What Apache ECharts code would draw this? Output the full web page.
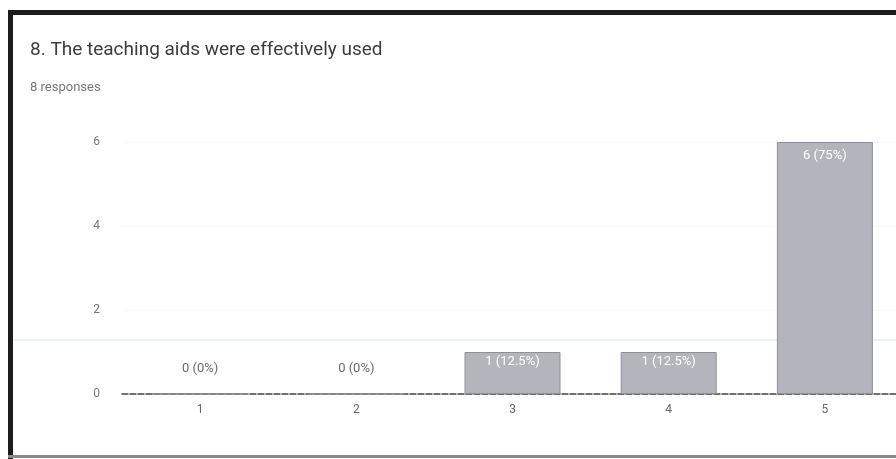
<!DOCTYPE html>
<html>
<head>
<meta charset="utf-8">
<script src="https://cdn.jsdelivr.net/npm/echarts@6/dist/echarts.min.js"></script>
<style>
html,body{margin:0;padding:0;background:#fff;overflow:hidden;width:896px;height:459px;}
#chart{width:903px;height:459px;}
</style>
</head>
<body>
<div id="chart"></div>
<script>
const titleText = "8. The teaching aids were effectively used";
const subtitleText = "8 responses";
const categories = ["1", "2", "3", "4", "5"];
const counts = [0, 0, 1, 1, 6];
const barLabels = ["0 (0%)", "0 (0%)", "1 (12.5%)", "1 (12.5%)", "6 (75%)"];
const yTicks = [0, 2, 4, 6];

const chart = echarts.init(document.getElementById('chart'));
const data = counts.map((v, i) => ({
  value: v,
  label: v === 0
    ? { position: 'top', distance: 18, color: '#6a6a6a' }
    : { position: 'insideTop', distance: v > 3 ? 7 : 3, color: '#ffffff' }
}));

chart.setOption({
  animation: false,
  backgroundColor: '#ffffff',
  title: [
    { text: titleText, left: 25, top: 36, textStyle: { fontFamily: 'Roboto', fontSize: 19, fontWeight: 'normal', color: '#3c3c3c' } },
    { text: subtitleText, left: 25, top: 76, textStyle: { fontFamily: 'Roboto', fontSize: 13, fontWeight: 'normal', color: '#777' } }
  ],
  graphic: [
    { type: 'rect', shape: { x: 8, y: 10, width: 900, height: 5 }, style: { fill: '#1c1c1c' }, z: 100 },
    { type: 'rect', shape: { x: 8, y: 10, width: 5, height: 449 }, style: { fill: '#1c1c1c' }, z: 100 },
    { type: 'rect', shape: { x: 8, y: 455, width: 900, height: 3 }, style: { fill: '#8a8a8a' }, z: 100 },
    { type: 'line', shape: { x1: 13, y1: 340, x2: 903, y2: 340 }, style: { stroke: '#d6e4e6', lineWidth: 1 }, z: 1 }
  ],
  grid: { left: 122, right: 0, top: 142, bottom: 65, containLabel: false },
  xAxis: {
    type: 'category',
    data: categories,
    axisLine: { lineStyle: { color: '#444', width: 1.5, type: [6, 2] } },
    axisTick: { show: false },
    axisLabel: { color: '#666', fontSize: 12, fontFamily: 'Roboto', margin: 10 }
  },
  yAxis: {
    type: 'value',
    min: yTicks[0], max: yTicks[yTicks.length - 1], interval: 2,
    axisLine: { show: false },
    axisTick: { show: false },
    splitLine: { show: true, lineStyle: { color: '#f7f7f7' } },
    axisLabel: { color: '#777', fontSize: 12, fontFamily: 'Roboto', margin: 22 }
  },
  series: [{
    type: 'bar',
    data: data,
    barWidth: 96,
    itemStyle: { color: '#b3b4bc', borderColor: '#8e8f98', borderWidth: 1 },
    label: {
      show: true,
      fontSize: 13,
      fontFamily: 'Roboto',
      formatter: p => barLabels[p.dataIndex]
    }
  }]
});
</script>
</body>
</html>
